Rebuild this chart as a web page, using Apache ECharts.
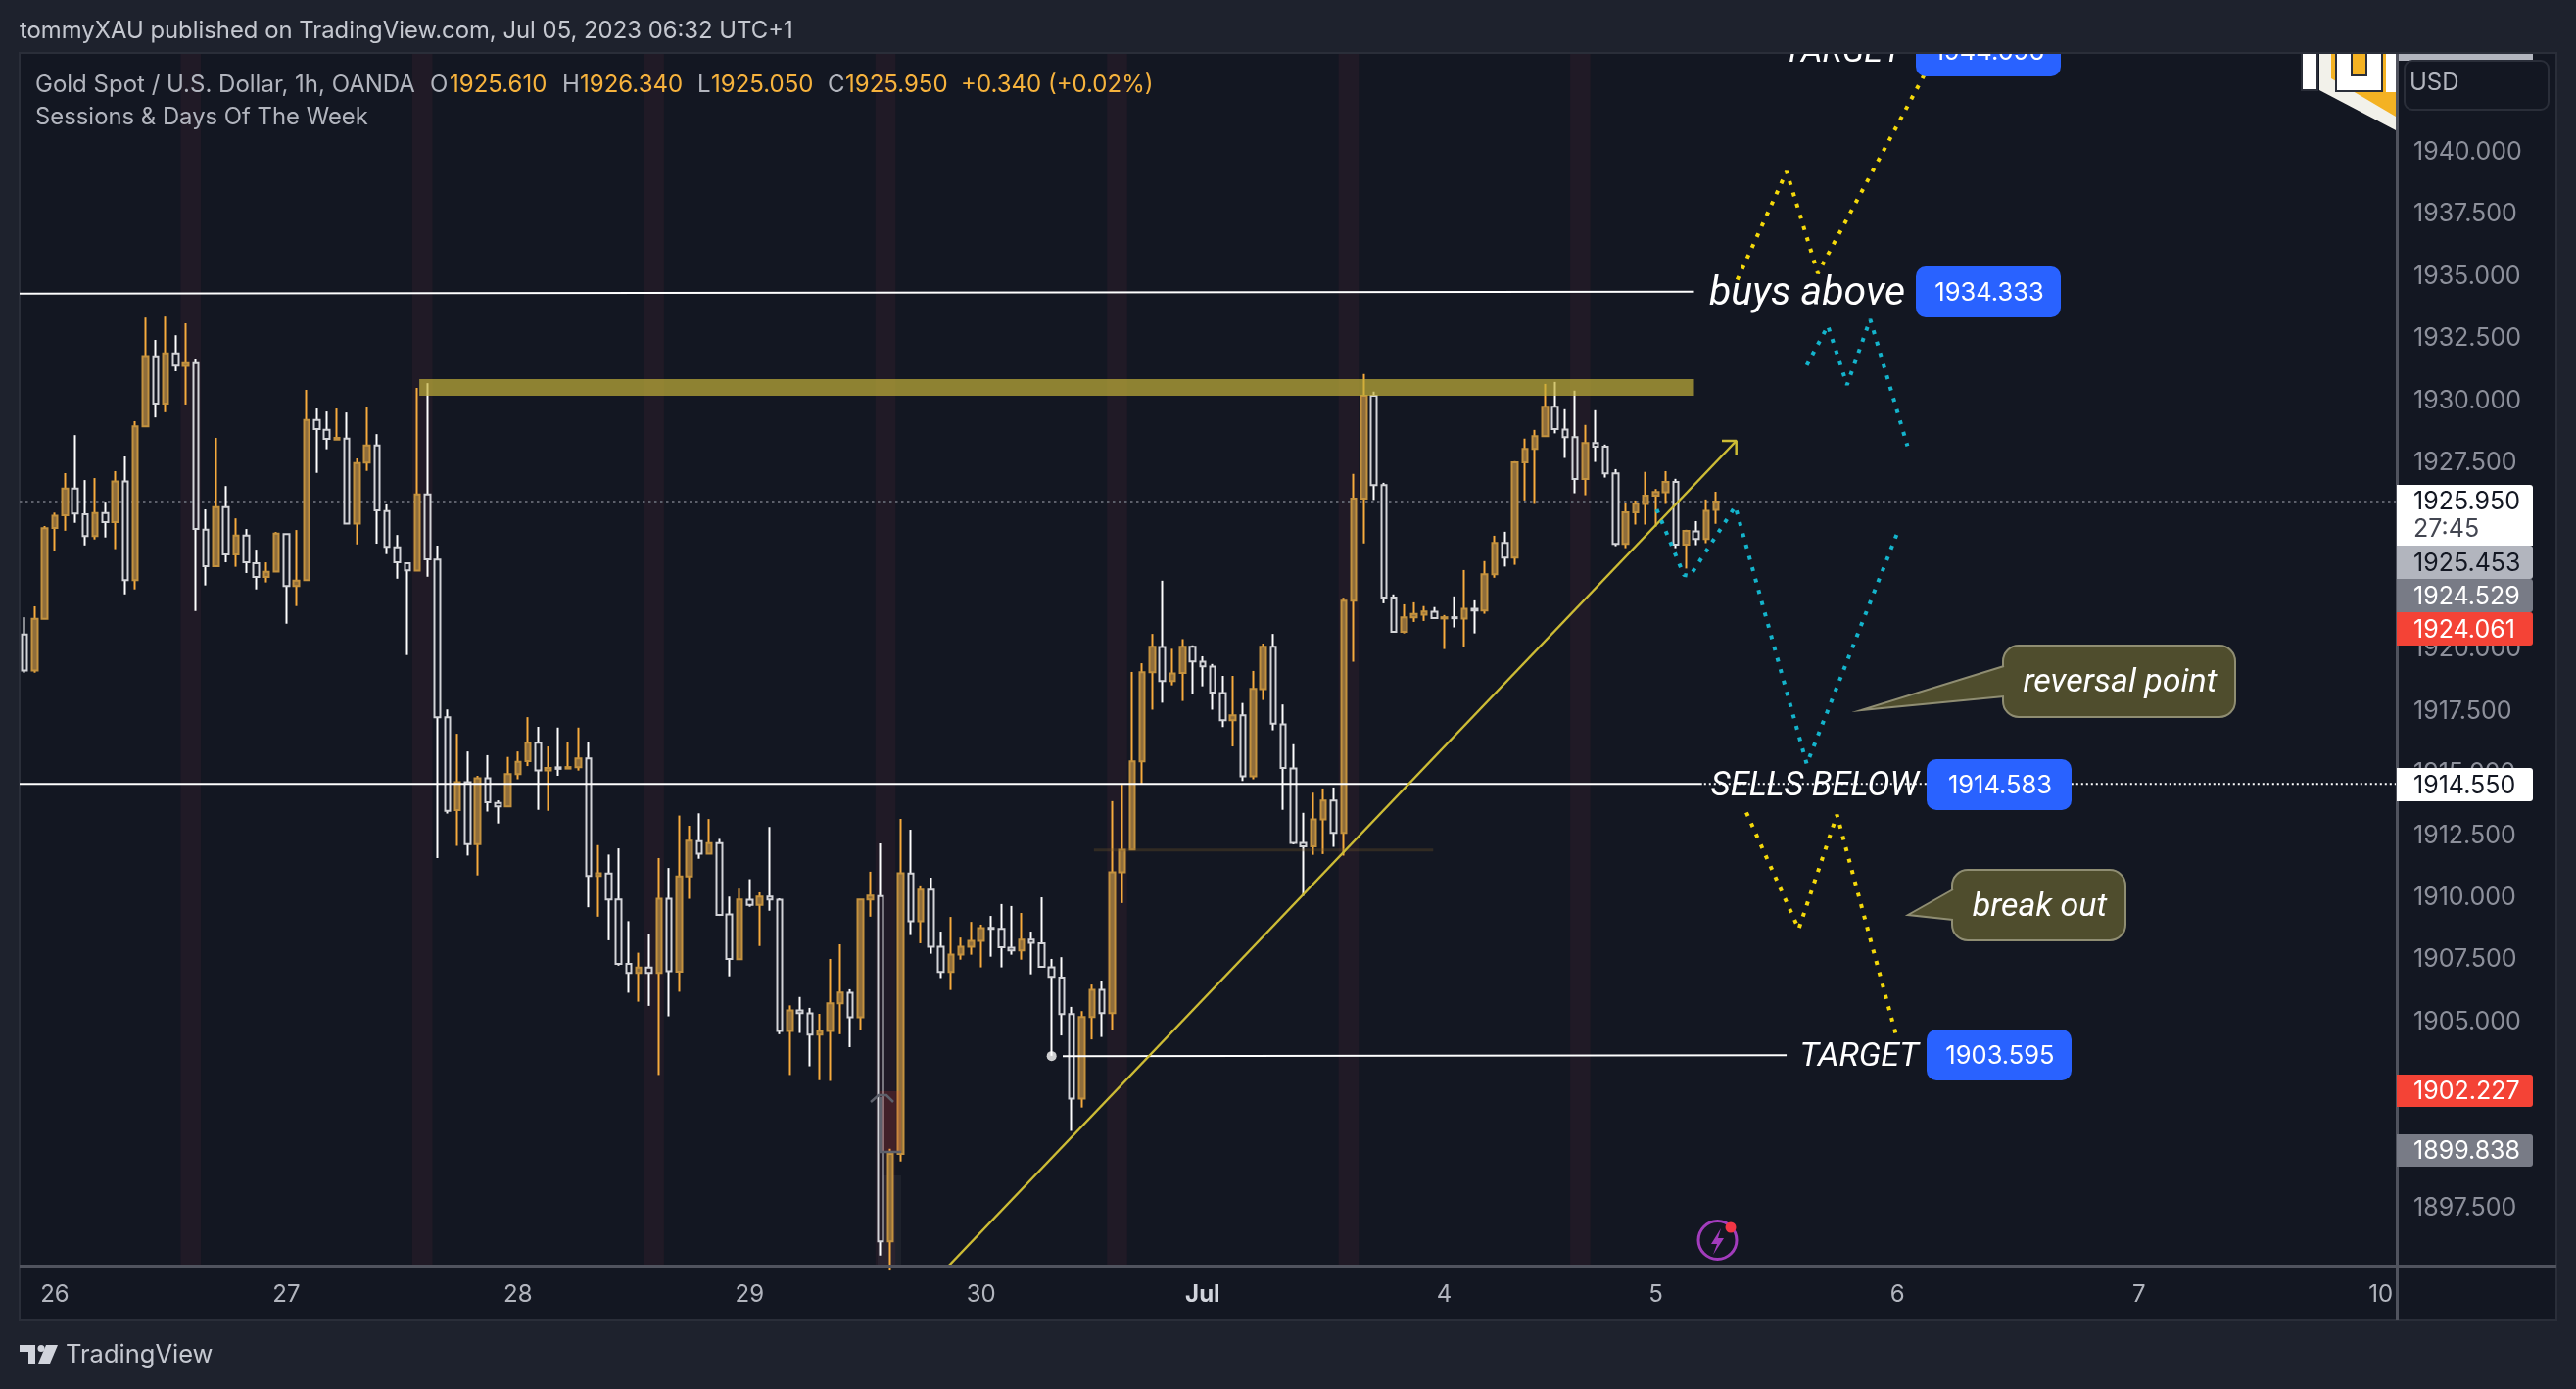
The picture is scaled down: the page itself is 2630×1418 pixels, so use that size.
<!DOCTYPE html>
<html>
<head>
<meta charset="utf-8">
<title>XAUUSD 1h</title>
<style>
html, body { margin: 0; padding: 0; background: #1e222d; }
#main { width: 2630px; height: 1418px; }
</style>
<script src="https://cdn.jsdelivr.net/npm/echarts@6/dist/echarts.min.js"></script>
</head>
<body>
<div id="main"></div>
<script>
// hourly candles
var opens = [
  1920.60,1919.15,1921.23,1924.88,1925.39,1926.47,1925.43,1924.56,1925.48,1925.12,
  1926.75,1922.78,1928.97,1931.79,1929.89,1931.91,1931.41,1931.51,1924.81,1923.34,
  1925.72,1923.82,1924.58,1923.46,1922.91,1923.13,1924.64,1922.55,1922.78,1929.23,
  1928.83,1928.44,1928.48,1925.06,1927.51,1928.20,1925.56,1924.10,1923.46,1923.17,
  1926.23,1923.61,1917.26,1913.53,1914.65,1912.16,1914.81,1913.82,1913.68,1914.98,
  1915.50,1916.24,1915.13,1915.25,1915.20,1915.25,1915.61,1910.88,1910.98,1909.93,
  1907.34,1906.98,1907.19,1906.98,1909.96,1907.03,1910.86,1912.28,1911.78,1912.20,
  1909.33,1907.53,1909.92,1909.72,1910.05,1909.92,1904.64,1905.47,1905.35,1904.49,
  1904.64,1905.75,1906.18,1905.19,1909.93,1910.07,1896.18,1899.69,1910.98,1909.06,
  1910.33,1908.03,1907.02,1907.72,1908.03,1908.27,1908.79,1908.75,1907.99,1907.88,
  1908.32,1908.17,1907.20,1906.79,1905.32,1901.92,1905.20,1906.30,1905.36,1911.03,
  1911.94,1915.49,1919.08,1920.09,1918.72,1919.05,1920.10,1919.50,1919.30,1918.24,
  1917.15,1917.34,1914.89,1918.40,1920.10,1916.98,1915.20,1912.21,1912.07,1913.16,
  1913.91,1912.61,1921.96,1926.06,1930.20,1926.61,1922.08,1920.70,1921.29,1921.39,
  1921.51,1921.24,1921.29,1921.24,1921.63,1921.56,1923.02,1924.28,1923.69,1927.52,
  1928.07,1928.58,1929.76,1928.84,1928.54,1926.85,1928.30,1928.15,1927.08,1924.24,
  1925.51,1925.85,1926.18,1926.32,1926.73,1924.21,1924.74,1924.44,1925.61
];
var closes = [
  1919.15,1921.23,1924.87,1925.37,1926.47,1925.46,1924.56,1925.48,1925.12,1926.75,
  1922.78,1928.97,1931.80,1929.89,1931.91,1931.42,1931.51,1924.84,1923.34,1925.72,
  1923.82,1924.58,1923.50,1922.91,1923.12,1924.66,1922.55,1922.76,1929.23,1928.86,
  1928.47,1928.51,1925.06,1927.49,1928.20,1925.59,1924.12,1923.50,1923.18,1926.23,
  1923.62,1917.26,1913.50,1914.65,1912.16,1914.81,1913.84,1913.68,1914.98,1915.47,
  1916.24,1915.13,1915.22,1915.19,1915.26,1915.61,1910.88,1910.99,1909.93,1907.34,
  1906.98,1907.19,1906.98,1909.96,1907.05,1910.86,1912.30,1911.78,1912.20,1909.31,
  1907.54,1909.93,1909.72,1910.05,1909.93,1904.64,1905.47,1905.36,1904.49,1904.64,
  1905.75,1906.19,1905.19,1909.93,1910.09,1896.18,1899.69,1910.99,1909.06,1910.33,
  1908.03,1907.02,1907.72,1908.03,1908.27,1908.78,1908.75,1908.01,1907.88,1908.32,
  1908.19,1907.22,1906.82,1905.32,1901.92,1905.20,1906.30,1905.36,1911.03,1911.93,
  1915.49,1919.08,1920.10,1918.72,1919.03,1920.10,1919.51,1919.31,1918.26,1917.15,
  1917.34,1914.89,1918.41,1920.10,1917.01,1915.22,1912.21,1912.07,1913.16,1913.91,
  1912.61,1921.96,1926.06,1930.20,1926.61,1922.08,1920.70,1921.29,1921.42,1921.52,
  1921.26,1921.29,1921.25,1921.63,1921.56,1923.02,1924.28,1923.69,1927.52,1928.07,
  1928.58,1929.76,1928.86,1928.54,1926.85,1928.30,1928.15,1927.08,1924.24,1925.51,
  1925.86,1926.18,1926.33,1926.73,1924.21,1924.76,1924.44,1925.57,1925.95
];
var lows = [
  1919.06,1919.06,1921.23,1923.95,1924.77,1925.09,1924.18,1924.42,1924.50,1924.03,
  1922.21,1922.41,1928.97,1929.33,1929.54,1931.19,1929.85,1921.54,1922.57,1923.34,
  1923.50,1923.32,1923.07,1922.41,1922.69,1923.13,1921.03,1921.74,1922.78,1927.10,
  1928.05,1928.44,1925.04,1924.22,1927.18,1924.25,1923.83,1922.84,1919.77,1923.17,
  1922.92,1911.60,1913.39,1912.09,1911.70,1910.90,1913.47,1912.99,1913.68,1914.77,
  1915.30,1913.54,1913.50,1914.91,1915.20,1915.12,1909.62,1909.24,1908.29,1907.27,
  1906.18,1905.82,1905.65,1902.87,1905.23,1906.22,1909.96,1911.57,1911.78,1909.27,
  1906.84,1907.53,1909.64,1908.06,1909.48,1904.51,1902.87,1904.56,1903.22,1902.66,
  1902.63,1904.51,1903.99,1904.67,1909.24,1895.60,1895.00,1899.39,1908.50,1908.17,
  1907.75,1906.77,1906.29,1907.51,1907.71,1907.20,1907.63,1907.20,1907.71,1907.51,
  1906.92,1907.22,1903.64,1904.46,1900.62,1901.56,1904.30,1904.40,1904.67,1909.79,
  1911.94,1914.58,1917.57,1917.85,1918.55,1917.92,1918.20,1918.51,1917.57,1916.87,
  1916.09,1914.70,1914.77,1917.96,1916.74,1913.54,1912.15,1910.08,1911.73,1911.76,
  1912.05,1911.70,1919.50,1924.26,1926.01,1921.85,1920.70,1920.64,1921.10,1921.14,
  1921.26,1920.01,1920.88,1920.09,1920.64,1921.43,1922.88,1923.33,1923.40,1925.99,
  1925.85,1928.58,1928.69,1927.70,1926.28,1926.20,1927.54,1926.91,1924.15,1924.07,
  1925.02,1925.02,1924.94,1925.85,1924.07,1923.25,1924.19,1924.27,1925.05
];
var highs = [
  1921.29,1921.73,1924.96,1925.50,1927.09,1928.62,1926.81,1926.89,1925.94,1927.17,
  1927.76,1929.18,1933.35,1932.45,1933.39,1932.64,1933.12,1931.70,1925.63,1928.51,
  1926.57,1925.27,1924.84,1924.01,1923.50,1924.72,1924.64,1924.80,1930.44,1929.69,
  1929.57,1929.69,1929.53,1927.68,1929.77,1928.66,1925.83,1924.60,1923.46,1930.52,
  1930.71,1924.17,1917.58,1916.60,1915.89,1914.91,1915.74,1913.92,1915.67,1915.89,
  1917.27,1916.88,1916.09,1916.85,1916.29,1916.85,1916.29,1912.12,1911.74,1911.99,
  1909.06,1907.79,1908.53,1911.60,1911.20,1913.31,1912.90,1913.40,1913.17,1912.37,
  1910.05,1910.37,1910.75,1910.22,1912.85,1909.98,1905.67,1906.01,1905.57,1905.33,
  1907.54,1908.13,1906.32,1909.93,1911.05,1912.19,1899.90,1913.17,1912.74,1910.50,
  1910.81,1908.64,1909.23,1908.40,1909.03,1908.92,1909.27,1909.75,1909.67,1909.39,
  1908.64,1910.02,1907.54,1907.61,1905.61,1905.44,1906.51,1906.67,1913.89,1914.55,
  1919.09,1919.44,1920.62,1922.76,1920.02,1920.41,1920.16,1919.72,1919.41,1918.93,
  1918.93,1917.84,1919.13,1920.23,1920.62,1917.78,1916.18,1913.42,1914.23,1914.40,
  1914.44,1922.07,1927.06,1931.08,1930.37,1926.70,1922.21,1921.81,1921.89,1921.74,
  1921.70,1921.38,1922.13,1923.19,1921.97,1923.55,1924.57,1924.73,1927.57,1928.48,
  1928.83,1930.68,1930.76,1929.66,1930.41,1929.03,1929.62,1928.24,1927.25,1925.87,
  1925.99,1927.14,1926.45,1927.17,1926.86,1924.81,1925.16,1926.03,1926.34
];

// axes
var slotCount = 236;
var dayLabels = ['26', '27', '28', '29', '30', 'Jul', '4', '5', '6', '7', '10'];
var dayBars = [3, 26, 49, 72, 95, 117, 141, 162, 186, 210, 234];
// the scale hides ticks that a price tag covers
var priceTicks = [1897.5, 1905, 1907.5, 1910, 1912.5, 1915, 1917.5, 1920, 1927.5, 1930, 1932.5, 1935, 1937.5, 1940];
var priceMin = 1895.2, priceMax = 1944.0;

// first bar of each two bar session stripe
var sessionStarts = [16, 39, 62, 85, 108, 131, 154];

// drawings as [bar position, price]
var lastPrice = 1925.95;
var buysAboveLine = [[0, 1934.31], [166.3, 1934.39]];
var sellsBelowLine = [[0, 1914.58], [167.1, 1914.58]];
var sellsBelowDots = [[167.3, 1914.58], [236, 1914.58]];
var targetLine = [[103.6, 1903.63], [175.5, 1903.67]];
var targetAnchor = [102.5, 1903.63];
var resistanceZone = [1930.875, 1930.20];
var zoneBars = [39.7, 166.3];
var faintLevel = [[106.7, 1911.92], [140.4, 1911.92]];
var trendLine = [[92.3, 1895.2], [170.5, 1928.39]];
var trendHead = [[169.07, 1928.39], [170.5, 1928.39], [170.5, 1927.80]];
var yellowUp = [[170.6, 1934.87], [175.5, 1939.23], [178.6, 1935.13], [189.2, 1943.14]];
var yellowDown = [[171.5, 1913.43], [176.7, 1908.74], [180.5, 1913.34], [186.5, 1904.28]];
var cyanUp = [[177.5, 1931.43], [179.6, 1933.02], [181.5, 1930.64], [183.8, 1933.28], [187.5, 1928.18]];
var cyanDown = [[162.6, 1925.63], [165.3, 1922.99], [165.9, 1922.95], [170.4, 1925.75], [177.5, 1915.38], [186.5, 1924.69]];

var FONT = 'Inter, "Noto Sans", sans-serif';
var NOTE_FONT = 'Roboto, "Noto Sans", sans-serif';
var GRID = { left: 20, top: 54, width: 2426, height: 1238 };

var categories = [];
for (var n = 0; n < slotCount; n++) {
  var at = dayBars.indexOf(n);
  categories.push(at >= 0 ? dayLabels[at] : ' ' + n);
}

function inSession(i) {
  return sessionStarts.some(function (s) { return i >= s && i < s + 2; });
}

var wickData = [], bodyData = [];
opens.forEach(function (o, i) {
  var c = closes[i];
  wickData.push([o, c, lows[i], highs[i]]);
  var body = { value: [o, c, Math.min(o, c), Math.max(o, c)] };
  if (inSession(i)) {
    body.itemStyle = { color0: '#201a26' };
  }
  bodyData.push(body);
});

function drawing(name, data, color, width, dash, z) {
  return {
    name: name,
    type: 'line',
    xAxisIndex: 1,
    data: data,
    symbol: 'none',
    silent: true,
    z: z || 5,
    lineStyle: { color: color, width: width, type: dash || 'solid', cap: 'butt' }
  };
}

// graphic helpers
function txt(x, y, text, color, font, align, z) {
  return {
    type: 'text', z: z || 30, silent: true,
    style: {
      x: x, y: y, text: text, fill: color, font: font,
      align: align || 'left', textAlign: align || 'left',
      verticalAlign: 'middle', textVerticalAlign: 'middle'
    }
  };
}
function box(x, y, w, h, fill, r, z, stroke, lw) {
  return {
    type: 'rect', z: z || 30, silent: true,
    shape: { x: x, y: y, width: w, height: h, r: r || 0 },
    style: { fill: fill, stroke: stroke || null, lineWidth: lw || 0 }
  };
}
function poly(points, fill, z) {
  return { type: 'polygon', z: z || 30, silent: true, shape: { points: points }, style: { fill: fill } };
}
function stroke(points, color, lw, z) {
  return {
    type: 'polyline', z: z || 30, silent: true, shape: { points: points },
    style: { stroke: color, lineWidth: lw, fill: null }
  };
}
function axisTag(y, h, fill, color, text) {
  return [
    box(2447, y, 139, h, fill, [0, 3, 3, 0], 32),
    txt(2464, y + h / 2 + 1, text, color, '25px ' + FONT, 'left', 33)
  ];
}
function blueTag(x, y, h, text) {
  return [
    box(x, y, 148, h, '#2962ff', 10, 20),
    txt(x + 75, y + h / 2 + 1, text, '#ffffff', '25.5px ' + FONT, 'center', 21)
  ];
}
function callout(x, y, w, h, tip, joinA, joinB, text) {
  var fill = '#4f4d2d', edge = '#8f8d72';
  return [
    box(x, y, w, h, fill, 16, 20, edge, 2),
    poly([joinA, tip, joinB], fill, 21),
    stroke([joinA, tip, joinB], edge, 2, 22),
    txt(x + w / 2 + 1, y + h / 2 + 2, text, '#ffffff', 'italic 34px ' + NOTE_FONT, 'center', 23)
  ];
}

var graphics = [].concat(
  [
    // chart panel
    box(20, 54, 2590, 1294, '#131722', 0, -1, '#2a2e39', 2)
  ],
  // sticker clipped by the panel and the price scale
  [
    poly([[2368, 92], [2446, 133], [2446, 54], [2368, 54]], '#f2f1ea', 9),
    poly([[2380, 54], [2380, 80], [2446, 119], [2446, 54]], '#f4b223', 10),
    box(2350, 54, 16, 38, '#ffffff', 0, 10, '#2a2e39', 2),
    stroke([[2393, 54], [2393, 85], [2424, 85], [2424, 54]], '#2a2e39', 18, 11),
    stroke([[2393, 54], [2393, 85], [2424, 85], [2424, 54]], '#ffffff', 14, 12),
    box(2436, 54, 10, 40, '#ffffff', 0, 12)
  ],
  blueTag(1956, 26, 52, '1944.096'),
  [
    txt(1942, 54, 'TARGET', '#ffffff', 'italic 34px ' + NOTE_FONT, 'right', 20),
    txt(1945, 301, 'buys above', '#ffffff', 'italic 41px ' + NOTE_FONT, 'right', 20),
    txt(1959, 803, 'SELLS BELOW', '#ffffff', 'italic 34.4px ' + NOTE_FONT, 'right', 20),
    txt(1959, 1079, 'TARGET', '#ffffff', 'italic 34px ' + NOTE_FONT, 'right', 20)
  ],
  blueTag(1956, 272, 52, '1934.333'),
  blueTag(1967, 775, 52, '1914.583'),
  blueTag(1967, 1051, 52, '1903.595'),
  callout(2045, 659, 237, 73, [1900, 725], [2046, 680], [2046, 711], 'reversal point'),
  callout(1993, 888, 177, 72, [1948, 934], [1994, 908], [1994, 939], 'break out'),
  [
    // marks around the bar 85 low
    box(898, 1114, 22, 62, 'rgba(244,67,54,0.16)', 0, 6),
    box(896, 1200, 24, 92, 'rgba(255,255,255,0.045)', 0, 1),
    stroke([[899, 1120], [899, 1176], [920, 1176]], '#5d606b', 2.5, 7),
    stroke([[889, 1125], [897, 1118], [905, 1118], [912, 1125]], '#5d606b', 2.5, 7),
    // alert icon
    {
      type: 'circle', z: 30, silent: true, shape: { cx: 1753.5, cy: 1266, r: 19.5 },
      style: { fill: null, stroke: '#a23cbc', lineWidth: 3 }
    },
    poly([[1757, 1254], [1747, 1270], [1753, 1270], [1749, 1281], [1760, 1264], [1754, 1264]], '#a23cbc'),
    {
      type: 'circle', z: 31, silent: true, shape: { cx: 1767, cy: 1253, r: 5.5 },
      style: { fill: '#f23645' }
    },
    // header on top of everything that runs over the panel edge
    box(0, 0, 2630, 53, '#1e222d', 0, 40),
    box(20, 53, 2590, 2, '#2a2e39', 0, 41),
    txt(20, 32, 'tommyXAU published on TradingView.com, Jul 05, 2023 06:32 UTC+1', '#c5c8d0', '23.85px ' + FONT, 'left', 42),
    txt(36, 87, 'Gold Spot / U.S. Dollar, 1h, OANDA', '#b2b5be', '24px ' + FONT),
    txt(439, 87, 'O', '#b2b5be', '24px ' + FONT),
    txt(459, 87, '1925.610', '#f7b33d', '24px ' + FONT),
    txt(574, 87, 'H', '#b2b5be', '24px ' + FONT),
    txt(592, 87, '1926.340', '#f7b33d', '24px ' + FONT),
    txt(712, 87, 'L', '#b2b5be', '24px ' + FONT),
    txt(726, 87, '1925.050', '#f7b33d', '24px ' + FONT),
    txt(845, 87, 'C', '#b2b5be', '24px ' + FONT),
    txt(863, 87, '1925.950', '#f7b33d', '24px ' + FONT),
    txt(981, 87, '+0.340 (+0.02%)', '#f7b33d', '24px ' + FONT),
    txt(36, 120, 'Sessions & Days Of The Week', '#b2b5be', '23.85px ' + FONT),
    // price scale
    box(2446, 54, 3, 1294, '#50535e', 0, 31),
    box(20, 1291, 2590, 3, '#50535e', 0, 31),
    box(2447, 54, 161, 34, '#131722', 0, 29),
    box(2447, 54, 139, 8, '#b2b5be', 0, 30),
    box(2455, 62, 147, 50, '#131722', 8, 31, '#2a2e39', 2),
    txt(2460, 85, 'USD', '#b2b5be', '24px ' + FONT, 'left', 32)
  ],
  axisTag(557, 34, '#b2b5be', '#131722', '1925.453'),
  axisTag(591, 34, '#787b86', '#ffffff', '1924.529'),
  axisTag(625, 34, '#f44336', '#ffffff', '1924.061'),
  axisTag(784, 34, '#ffffff', '#131722', '1914.550'),
  axisTag(1097, 33, '#f44336', '#ffffff', '1902.227'),
  axisTag(1158, 33, '#787b86', '#ffffff', '1899.838'),
  [
    box(2447, 495, 139, 62, '#ffffff', [0, 3, 0, 0], 32),
    txt(2464, 512, '1925.950', '#131722', '25px ' + FONT, 'left', 33),
    txt(2464, 540, '27:45', '#434651', '25px ' + FONT, 'left', 33),
    // logo
    poly([[20, 1373], [36, 1373], [36, 1392], [29, 1392], [29, 1380], [20, 1380]], '#d1d4dc'),
    {
      type: 'circle', z: 30, silent: true, shape: { cx: 42, cy: 1376.5, r: 3.5 },
      style: { fill: '#d1d4dc' }
    },
    poly([[47, 1373], [59, 1373], [51, 1392], [39, 1392]], '#d1d4dc'),
    txt(67, 1383, 'TradingView', '#c5c8d0', '25.5px ' + FONT)
  ]
);

var sessionAreas = sessionStarts.map(function (s) {
  return [{ xAxis: s }, { xAxis: s + 2 }];
});

var option = {
  backgroundColor: '#1e222d',
  animation: false,
  grid: { left: GRID.left, top: GRID.top, width: GRID.width, height: GRID.height, containLabel: false },
  xAxis: [{
    type: 'category',
    data: categories,
    boundaryGap: true,
    axisLine: { show: false },
    axisTick: { show: false },
    splitLine: { show: false },
    axisLabel: {
      color: '#b2b5be',
      fontFamily: 'Inter',
      fontSize: 24,
      margin: 18,
      interval: function (index) { return dayBars.indexOf(index) >= 0; },
      formatter: function (value) {
        return value === 'Jul' ? '{m|Jul}' : value;
      },
      rich: { m: { color: '#d1d4dc', fontFamily: 'Inter', fontSize: 24, fontWeight: 'bold' } }
    }
  }, {
    type: 'value',
    show: false,
    min: 0,
    max: slotCount,
    splitLine: { show: false }
  }],
  yAxis: {
    type: 'value',
    position: 'right',
    min: priceMin,
    max: priceMax,
    scale: true,
    axisLine: { show: false },
    axisTick: { show: false },
    splitLine: { show: false },
    axisLabel: {
      customValues: priceTicks,
      color: '#8d909b',
      fontFamily: 'Inter',
      fontSize: 25,
      margin: 18,
      padding: [6, 0, 0, 0],
      formatter: function (v) { return v.toFixed(3); }
    }
  },
  graphic: { elements: graphics },
  series: [
    {
      name: 'last price',
      type: 'line',
      xAxisIndex: 1,
      z: 1,
      symbol: 'none',
      silent: true,
      data: [[0, lastPrice], [slotCount, lastPrice]],
      lineStyle: { color: '#5d606b', width: 2, type: [2.5, 3.5] },
      markArea: {
        silent: true,
        z: 0,
        itemStyle: { color: '#201a26' },
        data: sessionAreas
      }
    },
    {
      name: 'wicks',
      type: 'candlestick',
      z: 2,
      barWidth: 1,
      data: wickData,
      itemStyle: { color: '#f7ab3d', color0: '#ffffff', borderColor: '#f7ab3d', borderColor0: '#ffffff', borderWidth: 2 }
    },
    {
      name: 'bodies',
      type: 'candlestick',
      z: 3,
      barWidth: 6,
      data: bodyData,
      itemStyle: { color: '#8f6d3b', color0: '#131722', borderColor: '#c4923f', borderColor0: '#d3d4d8', borderWidth: 2 }
    },
    {
      name: 'zone',
      type: 'line',
      xAxisIndex: 1,
      z: 5,
      symbol: 'none',
      silent: true,
      data: [],
      markArea: {
        silent: true,
        z: 5,
        itemStyle: { color: 'rgba(195,176,57,0.7)' },
        data: [[
          { xAxis: zoneBars[0], yAxis: resistanceZone[0] },
          { xAxis: zoneBars[1], yAxis: resistanceZone[1] }
        ]]
      }
    },
    drawing('faint level', faintLevel, 'rgba(120,90,40,0.3)', 3),
    drawing('buys above', buysAboveLine, '#ffffff', 2),
    drawing('sells below', sellsBelowLine, '#ffffff', 2),
    drawing('sells below dots', sellsBelowDots, '#ffffff', 2, [2, 3], 6),
    drawing('target', targetLine, '#ffffff', 2),
    {
      name: 'target anchor',
      type: 'scatter',
      xAxisIndex: 1,
      z: 6,
      silent: true,
      symbolSize: 10,
      data: [targetAnchor],
      itemStyle: { color: '#ffffff' }
    },
    drawing('trend', trendLine, '#cdbc35', 2.5),
    drawing('trend head', trendHead, '#cdbc35', 2.5),
    drawing('yellow up', yellowUp, '#f5d90a', 4, [4, 8], 7),
    drawing('yellow down', yellowDown, '#f5d90a', 4, [4, 8], 7),
    drawing('cyan up', cyanUp, '#14b4cc', 4, [4, 8], 7),
    drawing('cyan down', cyanDown, '#14b4cc', 4, [4, 8], 7)
  ]
};

var myChart = echarts.init(document.getElementById('main'));
myChart.setOption(option);
</script>
</body>
</html>
